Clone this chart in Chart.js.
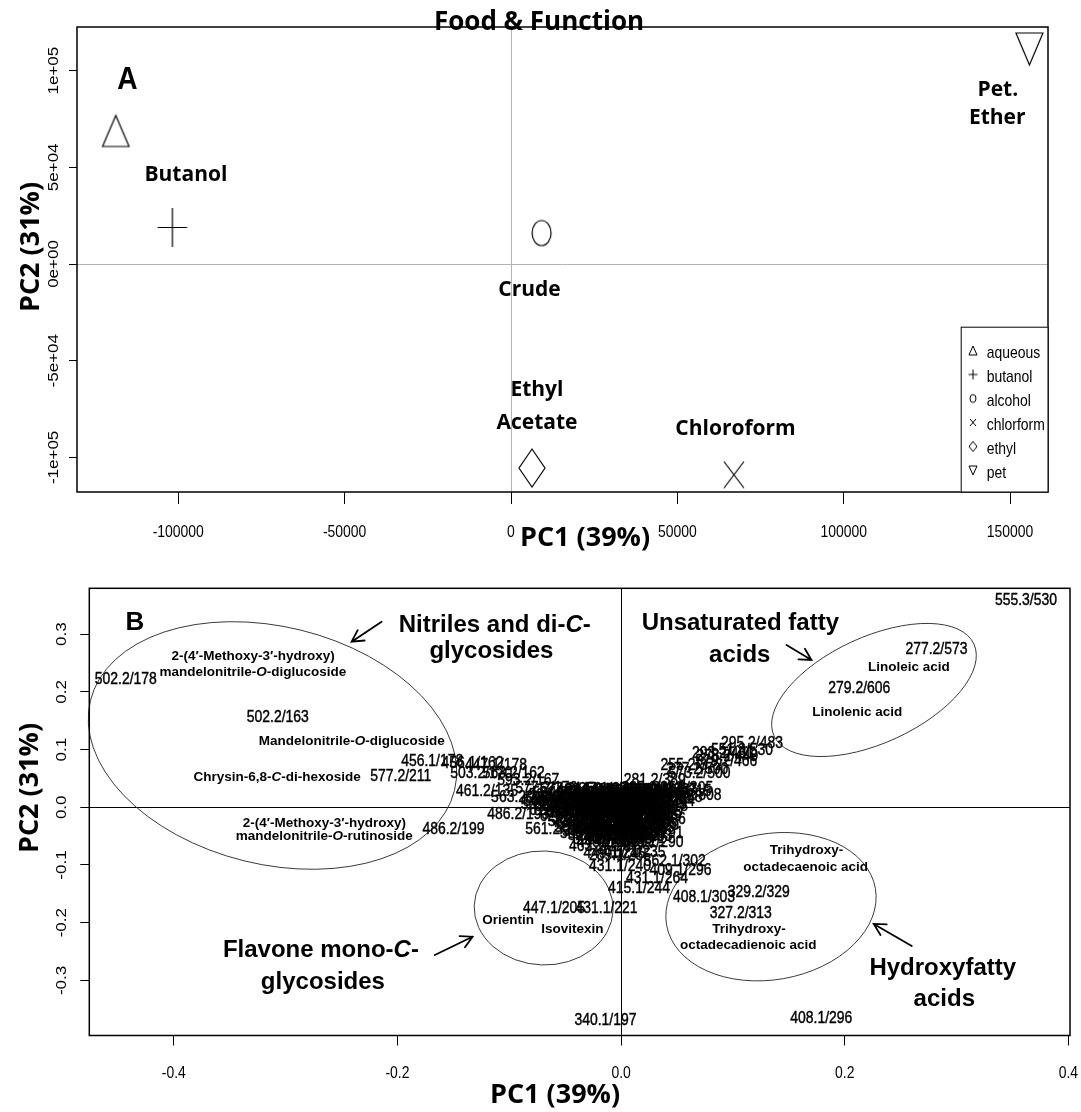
<!DOCTYPE html>
<html><head><meta charset="utf-8">
<script src="https://cdn.jsdelivr.net/npm/chart.js@4.4.1/dist/chart.umd.min.js"></script>
<style>
html,body{margin:0;padding:0;background:#fff;}
#wrap{position:relative;width:1081px;height:1112px;background:#fff;}
.pane{position:absolute;left:0;width:1081px;height:556px;}
</style></head><body>
<div id="wrap">
<div class="pane" style="top:0"><canvas id="cA" width="1081" height="556"></canvas></div>
<div class="pane" style="top:556px"><canvas id="cB" width="1081" height="556"></canvas></div>
</div>
<script>
// ---------------- Panel A : PCA scores ----------------
const groups = ['aqueous','butanol','alcohol','chlorform','ethyl','pet'];
const pc1Scores = [-118700, -101700, 9200, 67000, 6300, 155800];
const pc2Scores = [68800, 18900, 16000, -109100, -105500, 111200];
const scoreTagText = ['Butanol','Crude','Ethyl','Acetate','Chloroform','Pet.','Ether'];
const scoreTagPC1 = [-97700, 5560, 7800, 7800, 67470, 146300, 146120];
const scoreTagPC2 = [46000, -13400, -65150, -82400, -85300, 89970, 75340];

const xTicksA = [-100000,-50000,0,50000,100000,150000];
const xTickLabelsA = ['-100000','-50000','0','50000','100000','150000'];
const yTicksA = [-100000,-50000,0,50000,100000];
const yTickLabelsA = ['-1e+05','-5e+04','0e+00','5e+04','1e+05'];

// ---------------- Panel B : PCA loadings ----------------
const namesOuter = ['555.3/530','277.2/573','279.2/606','295.2/483','502.2/178','502.2/163','577.2/211','340.1/197','408.1/296'];
const pc1Outer   = [0.362,0.282,0.213,0.117,-0.443,-0.307,-0.197,-0.014,0.179];
const pc2Outer   = [0.358,0.273,0.207,0.111,0.221,0.156,0.053,-0.369,-0.366];

const namesLeft = ['456.1/178','456.1/162','503.2/170','447.1/178','563.2/162','593.2/167','461.2/135','563.2/211','577.2/176','486.2/193','486.2/199','561.2/244'];
const pc1Left   = [-0.169,-0.133,-0.125,-0.112,-0.096,-0.083,-0.120,-0.089,-0.067,-0.092,-0.150,-0.058];
const pc2Left   = [0.080,0.076,0.059,0.073,0.059,0.047,0.027,0.018,0.033,-0.012,-0.038,-0.038];

const namesRight = ['551.3/530','579.2/466','273.2/449','293.2/431','255.2/372','277.2/500','573.2/500','281.2/389','309.2/308','311.2/305','313.2/315'];
const pc1Right   = [0.108,0.094,0.095,0.091,0.063,0.068,0.070,0.030,0.062,0.055,0.053];
const pc2Right   = [0.098,0.079,0.088,0.094,0.073,0.065,0.059,0.047,0.021,0.033,0.027];

const namesLow = ['431.1/240','415.1/244','431.1/264','562.1/302','409.1/296','408.1/303','329.2/329','327.2/313','447.1/205','431.1/221','593.1/290','447.1/291','433.1/229','449.1/245','417.1/235','463.1/226','289.1/255'];
const pc1Low   = [-0.001,0.016,0.032,0.048,0.053,0.074,0.123,0.107,-0.060,-0.013,0.028,0.028,0.024,-0.006,0.012,-0.019,-0.001];
const pc2Low   = [-0.103,-0.140,-0.123,-0.094,-0.109,-0.156,-0.148,-0.183,-0.175,-0.175,-0.060,-0.045,-0.031,-0.080,-0.078,-0.068,-0.083];

const namesCore = [
 '577.2/250','433.1/263','447.1/271','415.1/288','609.2/301','285.1/352','299.1/367',
 '593.2/233','463.1/248','449.1/259','431.1/277','327.2/290','301.1/311','313.2/339','287.1/358',
 '563.2/226','579.2/239','477.1/252','461.1/266','445.1/279','343.1/295','317.2/321','271.2/344',
 '609.1/231','491.1/243','475.1/256','459.1/268','353.1/283','325.2/299','297.2/318',
 '623.2/236','505.1/249','489.1/261','371.1/274','339.2/287','311.1/306',
 '537.2/238','519.1/253','473.1/265','387.1/276','355.1/284','329.1/296',
 '549.2/241','503.1/257','487.1/269','401.1/279','369.1/286',
 '533.1/246','517.1/258','429.1/270','413.1/281',
 '521.1/247','435.1/260','421.1/272','405.1/283',
 '443.1/250','427.1/262'];
const pc1Core = [
 -0.045,-0.030,-0.015,0.000,0.015,0.028,0.040,
 -0.055,-0.040,-0.025,-0.010,0.005,0.020,0.033,0.045,
 -0.060,-0.045,-0.030,-0.015,0.000,0.012,0.025,0.038,
 -0.050,-0.035,-0.020,-0.005,0.008,0.020,0.032,
 -0.040,-0.026,-0.012,0.002,0.015,0.027,
 -0.035,-0.022,-0.008,0.006,0.018,0.030,
 -0.030,-0.016,-0.002,0.011,0.022,
 -0.025,-0.012,0.001,0.014,
 -0.020,-0.006,0.008,0.018,
 -0.012,0.003];
const pc2Core = [
 0.031,0.029,0.032,0.030,0.028,0.033,0.029,
 0.021,0.019,0.022,0.018,0.021,0.019,0.022,0.018,
 0.011,0.009,0.012,0.008,0.011,0.009,0.012,0.010,
 0.001,-0.001,0.002,-0.002,0.001,-0.001,0.002,
 -0.009,-0.011,-0.008,-0.012,-0.009,-0.011,
 -0.019,-0.021,-0.018,-0.022,-0.019,-0.021,
 -0.029,-0.031,-0.028,-0.032,-0.029,
 -0.041,-0.039,-0.042,-0.038,
 -0.049,-0.052,-0.048,-0.051,
 -0.061,-0.059];

const namesCore2 = [
 '581.2/247','437.1/262','451.1/270','419.1/287','611.2/300','289.1/350','303.1/365',
 '595.2/232','465.1/247','453.1/258','435.1/276','331.2/289','305.1/310','315.2/338',
 '565.2/225','583.2/238','479.1/251','465.1/265','449.1/278','347.1/294','319.2/320','275.2/343',
 '611.1/230','493.1/242','479.1/255','463.1/267','357.1/282','327.2/298','299.2/317',
 '625.2/235','507.1/248','491.1/260','375.1/273','341.2/286','315.1/305',
 '539.2/237','521.1/252','477.1/264','391.1/275','359.1/283',
 '551.2/240','507.1/256','491.1/268','405.1/278','373.1/285',
 '535.1/245','519.1/257','431.1/269','417.1/280',
 '523.1/246','437.1/259','425.1/271'];
const pc1Core2 = [
 -0.052,-0.037,-0.022,-0.007,0.008,0.022,0.035,
 -0.058,-0.042,-0.028,-0.012,0.003,0.017,0.030,
 -0.062,-0.050,-0.037,-0.022,-0.008,0.006,0.019,0.031,
 -0.055,-0.040,-0.025,-0.010,0.005,0.018,0.030,
 -0.045,-0.030,-0.015,0.000,0.014,0.026,
 -0.038,-0.024,-0.010,0.004,0.017,
 -0.032,-0.018,-0.004,0.009,0.020,
 -0.027,-0.013,0.000,0.012,
 -0.016,0.000,0.012];
const pc2Core2 = [
 0.025,0.024,0.026,0.025,0.024,0.027,0.025,
 0.015,0.016,0.014,0.015,0.016,0.014,0.015,
 0.005,0.006,0.004,0.005,0.006,0.004,0.005,0.006,
 -0.005,-0.004,-0.006,-0.005,-0.004,-0.006,-0.005,
 -0.015,-0.014,-0.016,-0.015,-0.014,-0.016,
 -0.025,-0.024,-0.026,-0.025,-0.024,
 -0.035,-0.034,-0.036,-0.035,-0.034,
 -0.045,-0.044,-0.046,-0.045,
 -0.055,-0.056,-0.054];

const loadNames = [...namesOuter, ...namesLeft, ...namesRight, ...namesLow, ...namesCore, ...namesCore2];
const loadPC1 = [...pc1Outer, ...pc1Left, ...pc1Right, ...pc1Low, ...pc1Core, ...pc1Core2];
const loadPC2 = [...pc2Outer, ...pc2Left, ...pc2Right, ...pc2Low, ...pc2Core, ...pc2Core2];

const compoundText = ['2-(4′-Methoxy-3′-hydroxy)','mandelonitrile-*O*-diglucoside','Mandelonitrile-*O*-diglucoside','Chrysin-6,8-*C*-di-hexoside','2-(4′-Methoxy-3′-hydroxy)','mandelonitrile-*O*-rutinoside','Orientin','Isovitexin','Trihydroxy-','octadecaenoic acid','Trihydroxy-','octadecadienoic acid','Linoleic acid','Linolenic acid'];
const compoundPC1 = [-0.3290,-0.3293,-0.2410,-0.3076,-0.2654,-0.2654,-0.1010,-0.0436,0.1658,0.1650,0.1143,0.1136,0.2574,0.2112];
const compoundPC2 = [0.2610,0.2340,0.1149,0.0520,-0.0277,-0.0510,-0.1953,-0.2109,-0.0740,-0.1040,-0.2114,-0.2386,0.2426,0.1640];

const classText = ['Nitriles and di-*C*-','glycosides','Unsaturated fatty','acids','Flavone mono-*C*-','glycosides','Hydroxyfatty','acids'];
const classPC1 = [-0.1130,-0.1160,0.1066,0.1061,-0.2685,-0.2667,0.2876,0.2890];
const classPC2 = [0.3159,0.2709,0.3194,0.2640,-0.2473,-0.3033,-0.2790,-0.3322];

const xTicksB = [-0.4,-0.2,0,0.2,0.4];
const xTickLabelsB = ['-0.4','-0.2','0.0','0.2','0.4'];
const yTicksB = [-0.3,-0.2,-0.1,0,0.1,0.2,0.3];
const yTickLabelsB = ['-0.3','-0.2','-0.1','0.0','0.1','0.2','0.3'];

// annotation geometry (ellipse centres / arrow ends in data units, sizes in px)
const ellipsesB = [
 {x:-0.3118, y:0.1071, a:187.5, b:118.8, rot:13.9},
 {x:-0.0693, y:-0.1745, a:69.5, b:57, rot:2},
 {x:0.1340, y:-0.1723, a:106, b:73, rot:-10},
 {x:0.2261, y:0.2033, a:110, b:53, rot:-24.7}];
const arrowsB = [
 {x1:-0.2142,y1:0.3217,x2:-0.2410,y2:0.2870},
 {x1:0.1479,y1:0.2813,x2:0.1702,y2:0.2553},
 {x1:-0.1666,y1:-0.2560,x2:-0.1329,y2:-0.2243},
 {x1:0.2599,y1:-0.2404,x2:0.2259,y2:-0.2022}];

// ---------------- helpers ----------------
const SANS = '"Liberation Sans", Arial, Helvetica, sans-serif';
const HUM = '"Open Sans", "Noto Sans", sans-serif';
const NARROW = 0.82;
function txt(ctx, s, x, y, o) {
  ctx.save();
  ctx.translate(x, y);
  if (o.rot) ctx.rotate(o.rot);
  ctx.scale(o.sx || 1, o.sy || 1);
  ctx.font = (o.style || 'normal') + ' ' + (o.weight || 'normal') + ' ' + o.size + 'px ' + (o.family || SANS);
  ctx.fillStyle = o.color || '#000';
  ctx.textAlign = o.align || 'center';
  ctx.textBaseline = o.baseline || 'middle';
  ctx.fillText(s, 0, 0);
  if (o.stroke) { ctx.strokeStyle = o.color || '#000'; ctx.lineWidth = o.stroke; ctx.strokeText(s, 0, 0); }
  ctx.restore();
}
function rich(ctx, s, x, y, size, weight) {
  const parts = s.split('*');
  ctx.save();
  const fonts = parts.map((p, i) => (i % 2 ? 'italic ' : 'normal ') + weight + ' ' + size + 'px ' + SANS);
  const widths = parts.map((p, i) => { ctx.font = fonts[i]; return ctx.measureText(p).width; });
  let cx = x - widths.reduce((a, b) => a + b, 0) / 2;
  ctx.textBaseline = 'middle'; ctx.textAlign = 'left'; ctx.fillStyle = '#000';
  parts.forEach((p, i) => { ctx.font = fonts[i]; ctx.fillText(p, cx, y); cx += widths[i]; });
  ctx.restore();
}
function marker(type, w, h, lw) {
  const c = document.createElement('canvas');
  const pad = 2;
  c.width = Math.ceil(w + 2 * pad); c.height = Math.ceil(h + 2 * pad);
  const g = c.getContext('2d');
  g.strokeStyle = '#000'; g.lineWidth = lw;
  const l = pad, t = pad, r = pad + w, b = pad + h, cx = pad + w / 2, cy = pad + h / 2;
  g.beginPath();
  if (type === 'tri') { g.moveTo(cx, t); g.lineTo(r, b); g.lineTo(l, b); g.closePath(); }
  if (type === 'itri') { g.moveTo(l, t); g.lineTo(r, t); g.lineTo(cx, b); g.closePath(); }
  if (type === 'plus') { g.moveTo(l, cy); g.lineTo(r, cy); g.moveTo(cx, t); g.lineTo(cx, b); }
  if (type === 'cross') { g.moveTo(l, t); g.lineTo(r, b); g.moveTo(r, t); g.lineTo(l, b); }
  if (type === 'circle') { g.ellipse(cx, cy, w / 2, h / 2, 0, 0, Math.PI * 2); }
  if (type === 'diamond') { g.moveTo(cx, t); g.lineTo(r, cy); g.lineTo(cx, b); g.lineTo(l, cy); g.closePath(); }
  g.stroke();
  return c;
}
const markerTypes = ['tri','plus','circle','cross','diamond','itri'];
const bigSizes = [[26.5,31],[29.5,39],[19,25],[20,26.5],[26,38],[27,32]];
const smallSizes = [[8,9],[9,10],[6,8],[6,7],[8,10],[8,9]];
const bigMarkers = markerTypes.map((t, i) => marker(t, bigSizes[i][0], bigSizes[i][1], 1.2));
const smallMarkers = markerTypes.map((t, i) => marker(t, smallSizes[i][0], smallSizes[i][1], 1));

function axisCfg(min, max, tickVals, tickLen, fitSize, isX) {
  return {
    type: 'linear', min: min, max: max,
    afterBuildTicks: s => { s.ticks = tickVals.map(v => ({ value: v })); },
    ticks: { display: false },
    grid: { drawOnChartArea: false, drawTicks: true, tickLength: tickLen, color: '#000', lineWidth: 1 },
    border: { display: false },
    afterFit: s => { if (isX) s.height = fitSize; else s.width = fitSize; }
  };
}

// ---------------- Chart A ----------------
const pluginA = {
  id: 'decoA',
  beforeDatasetsDraw(chart) {
    const { ctx, chartArea: ca, scales: { x, y } } = chart;
    ctx.save();
    ctx.strokeStyle = '#b4b4b4'; ctx.lineWidth = 1;
    const x0 = Math.round(x.getPixelForValue(0)) + 0.5, y0 = Math.round(y.getPixelForValue(0)) + 0.5;
    ctx.beginPath(); ctx.moveTo(x0, ca.top); ctx.lineTo(x0, ca.bottom);
    ctx.moveTo(ca.left, y0); ctx.lineTo(ca.right, y0); ctx.stroke();
    ctx.restore();
  },
  afterDatasetsDraw(chart) {
    const { ctx, chartArea: ca, scales: { x, y } } = chart;
    ctx.save(); ctx.strokeStyle = '#000'; ctx.lineWidth = 1.5;
    ctx.strokeRect(ca.left, ca.top, ca.right - ca.left, ca.bottom - ca.top); ctx.restore();
    x.ticks.forEach((t, i) => txt(ctx, xTickLabelsA[i], x.getPixelForValue(t.value), 532, { size: 17, sx: NARROW }));
    y.ticks.forEach((t, i) => txt(ctx, yTickLabelsA[i], 54, y.getPixelForValue(t.value), { size: 17, rot: -Math.PI / 2, sy: NARROW }));
    scoreTagText.forEach((s, i) => txt(ctx, s, x.getPixelForValue(scoreTagPC1[i]), y.getPixelForValue(scoreTagPC2[i]), { size: 21, weight: 'bold', family: HUM }));
    txt(ctx, 'A', x.getPixelForValue(-115250), y.getPixelForValue(95100), { size: 32, weight: 'bold', sx: 0.88 });
    // legend
    const lx = 960.7, ly = 326.7;
    ctx.save(); ctx.fillStyle = '#fff'; ctx.fillRect(lx, ly, ca.right - lx, ca.bottom - ly);
    ctx.strokeStyle = '#000'; ctx.lineWidth = 1; ctx.strokeRect(lx + 0.5, ly + 0.5, ca.right - lx - 0.5, ca.bottom - ly - 0.5); ctx.restore();
    groups.forEach((g, i) => {
      const yy = 353 + 24 * i, m = smallMarkers[i];
      ctx.drawImage(m, 973 - m.width / 2, yy - 2.5 - m.height / 2);
      txt(ctx, g, 986.7, yy, { size: 17, sx: NARROW, align: 'left' });
    });
    // header & axis titles
    txt(ctx, 'Food & Function', 539, 30, { size: 26, weight: 'bold', family: HUM, baseline: 'alphabetic' });
    txt(ctx, 'PC1 (39%)', 585, 538, { size: 27, weight: 'bold', family: HUM });
    txt(ctx, 'PC2 (31%)', 31, 247, { size: 27, weight: 'bold', family: HUM, rot: -Math.PI / 2 });
  }
};

new Chart(document.getElementById('cA'), {
  type: 'scatter',
  data: {
    datasets: groups.map((g, i) => ({
      label: g,
      data: [{ x: pc1Scores[i], y: pc2Scores[i] }],
      pointStyle: bigMarkers[i], pointRadius: 14, borderColor: '#000', backgroundColor: 'transparent'
    }))
  },
  options: {
    responsive: false, animation: false, devicePixelRatio: 1,
    layout: { padding: { left: 0, right: 33, top: 27, bottom: 0 } },
    plugins: { legend: { display: false }, tooltip: { enabled: false } },
    scales: {
      x: axisCfg(-130432, 161387, xTicksA, 12, 64, true),
      y: axisCfg(-117890, 122544, yTicksA, 8, 77, false)
    }
  },
  plugins: [pluginA]
});

// ---------------- Chart B ----------------
function arrow(ctx, x1, y1, x2, y2) {
  const ang = Math.atan2(y2 - y1, x2 - x1), L = 13, sp = 0.5;
  ctx.beginPath(); ctx.moveTo(x1, y1); ctx.lineTo(x2, y2);
  ctx.moveTo(x2 - L * Math.cos(ang - sp), y2 - L * Math.sin(ang - sp)); ctx.lineTo(x2, y2);
  ctx.lineTo(x2 - L * Math.cos(ang + sp), y2 - L * Math.sin(ang + sp));
  ctx.stroke();
}
const pluginB = {
  id: 'decoB',
  beforeDatasetsDraw(chart) {
    const { ctx, chartArea: ca, scales: { x, y } } = chart;
    ctx.save(); ctx.strokeStyle = '#000'; ctx.lineWidth = 1;
    const x0 = Math.round(x.getPixelForValue(0)) + 0.5, y0 = Math.round(y.getPixelForValue(0)) + 0.5;
    ctx.beginPath(); ctx.moveTo(x0, ca.top); ctx.lineTo(x0, ca.bottom);
    ctx.moveTo(ca.left, y0); ctx.lineTo(ca.right, y0); ctx.stroke();
    ctx.strokeStyle = '#3a3a3a'; ctx.lineWidth = 1;
    ellipsesB.forEach(e => {
      ctx.beginPath();
      ctx.ellipse(x.getPixelForValue(e.x), y.getPixelForValue(e.y), e.a, e.b, e.rot * Math.PI / 180, 0, Math.PI * 2);
      ctx.stroke();
    });
    ctx.restore();
  },
  afterDatasetsDraw(chart) {
    const { ctx, chartArea: ca, scales: { x, y } } = chart;
    const meta = chart.getDatasetMeta(0);
    meta.data.forEach((pt, i) => txt(ctx, loadNames[i], pt.x, pt.y, { size: 17, sx: NARROW, stroke: 0.45 }));
    compoundText.forEach((s, i) => rich(ctx, s, x.getPixelForValue(compoundPC1[i]), y.getPixelForValue(compoundPC2[i]), 13.5, 'bold'));
    classText.forEach((s, i) => rich(ctx, s, x.getPixelForValue(classPC1[i]), y.getPixelForValue(classPC2[i]), 24, 'bold'));
    ctx.save(); ctx.strokeStyle = '#000'; ctx.lineWidth = 1.8; ctx.lineCap = 'round';
    arrowsB.forEach(a => arrow(ctx, x.getPixelForValue(a.x1), y.getPixelForValue(a.y1), x.getPixelForValue(a.x2), y.getPixelForValue(a.y2)));
    ctx.restore();
    txt(ctx, 'B', x.getPixelForValue(-0.4348), y.getPixelForValue(0.3194), { size: 26, weight: 'bold' });
    ctx.save(); ctx.strokeStyle = '#000'; ctx.lineWidth = 1.5;
    ctx.strokeRect(ca.left, ca.top, ca.right - ca.left, ca.bottom - ca.top); ctx.restore();
    x.ticks.forEach((t, i) => txt(ctx, xTickLabelsB[i], x.getPixelForValue(t.value), 517, { size: 17, sx: NARROW }));
    y.ticks.forEach((t, i) => txt(ctx, yTickLabelsB[i], 62.5, y.getPixelForValue(t.value), { size: 17, rot: -Math.PI / 2, sy: NARROW }));
    txt(ctx, 'PC1 (39%)', 555, 539, { size: 27, weight: 'bold', family: HUM });
    txt(ctx, 'PC2 (31%)', 30, 232, { size: 27, weight: 'bold', family: HUM, rot: -Math.PI / 2 });
  }
};

new Chart(document.getElementById('cB'), {
  type: 'scatter',
  data: {
    datasets: [{
      label: 'loadings',
      data: loadNames.map((n, i) => ({ x: loadPC1[i], y: loadPC2[i] })),
      pointRadius: 0, borderColor: '#000', backgroundColor: '#000'
    }]
  },
  options: {
    responsive: false, animation: false, devicePixelRatio: 1,
    layout: { padding: { left: 0, right: 11, top: 32.3, bottom: 0 } },
    plugins: { legend: { display: false }, tooltip: { enabled: false } },
    scales: {
      x: axisCfg(-0.4756, 0.4014, xTicksB, 10, 76.5, true),
      y: axisCfg(-0.3955, 0.3795, yTicksB, 9, 89.3, false)
    }
  },
  plugins: [pluginB]
});
</script>
</body></html>
